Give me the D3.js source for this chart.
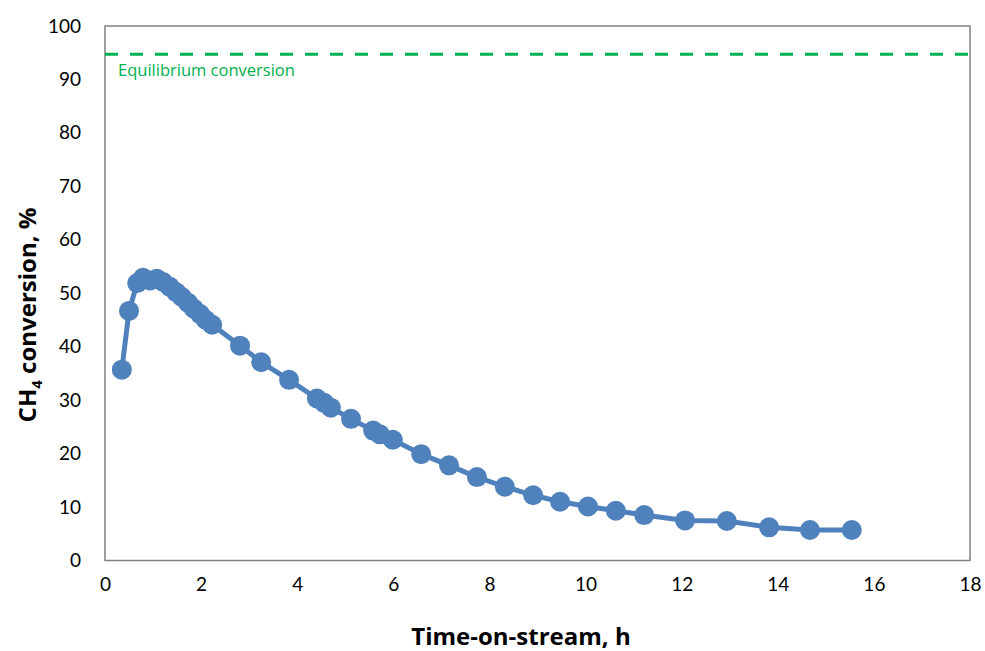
<!DOCTYPE html>
<html lang="en">
<head>
<meta charset="UTF-8">
<title>CH4 conversion</title>
<script src="https://cdn.jsdelivr.net/npm/d3@7/dist/d3.min.js"></script>
<style>
  body { margin: 0; background: #fff; }
  text { font-family: Lato, "Open Sans", sans-serif; }
</style>
</head>
<body>
<script>
// time-on-stream (h) and CH4 conversion (%)
const timeH = [0.35, 0.50, 0.67, 0.79, 0.94, 1.08, 1.21, 1.35, 1.48, 1.60, 1.73, 1.85, 1.98, 2.10, 2.23,
  2.81, 3.25, 3.83, 4.41, 4.56, 4.70, 5.12, 5.58, 5.72, 5.99, 6.58, 7.16, 7.74, 8.32, 8.91,
  9.47, 10.05, 10.63, 11.22, 12.07, 12.94, 13.82, 14.67, 15.54];
const conversion = [35.7, 46.7, 51.9, 52.9, 52.4, 52.7, 52.1, 51.2, 50.2, 49.3, 48.2, 47.1, 46.1, 45.0, 44.1,
  40.2, 37.1, 33.8, 30.3, 29.5, 28.6, 26.5, 24.3, 23.6, 22.6, 19.9, 17.8, 15.6, 13.8, 12.2,
  11.0, 10.1, 9.3, 8.5, 7.5, 7.4, 6.2, 5.7, 5.7];
const equilibrium = 94.7;
const xTicks = [0, 2, 4, 6, 8, 10, 12, 14, 16, 18];
const yTicks = [0, 10, 20, 30, 40, 50, 60, 70, 80, 90, 100];

const W = 985, H = 651;
const plotL = 105, plotR = 970, plotT = 26, plotB = 560.5;
const titleFont = '"Open Sans", Lato, sans-serif';

const svg = d3.select('body').append('svg').attr('width', W).attr('height', H);

const x = d3.scaleLinear().domain([0, 18]).range([plotL, plotR]);
const y = d3.scaleLinear().domain([0, 100]).range([plotB, plotT]);

// axes (labels only, no tick marks)
const xAxis = svg.append('g').attr('transform', `translate(0,${plotB})`)
  .call(d3.axisBottom(x).tickValues(xTicks).tickSize(0).tickPadding(17));
const yAxis = svg.append('g').attr('transform', `translate(${plotL},0)`)
  .call(d3.axisLeft(y).tickValues(yTicks).tickSize(0).tickPadding(24));
[xAxis, yAxis].forEach(g => {
  g.select('.domain').remove();
  g.selectAll('text').attr('font-size', 19).attr('fill', '#000')
    .style('font-family', 'Lato, "Open Sans", sans-serif');
});

// plot frame
svg.append('rect')
  .attr('x', plotL).attr('y', plotT)
  .attr('width', plotR - plotL).attr('height', plotB - plotT)
  .attr('fill', 'none').attr('stroke', '#808080').attr('stroke-width', 1.5);

// equilibrium line
svg.append('line')
  .attr('x1', x(0)).attr('x2', x(18))
  .attr('y1', y(equilibrium)).attr('y2', y(equilibrium))
  .attr('stroke', '#00b050').attr('stroke-width', 3)
  .attr('stroke-dasharray', '13,12');
svg.append('text')
  .attr('x', x(0) + 13).attr('y', y(equilibrium) + 22)
  .attr('font-size', 16.5).attr('fill', '#00b050')
  .style('font-family', titleFont)
  .text('Equilibrium conversion');

// data series
const pts = timeH.map((t, i) => [t, conversion[i]]);
svg.append('path')
  .datum(pts)
  .attr('fill', 'none').attr('stroke', '#4f81bd').attr('stroke-width', 5)
  .attr('stroke-linejoin', 'round')
  .attr('d', d3.line().x(d => x(d[0])).y(d => y(d[1])));
svg.selectAll('circle.pt').data(pts).enter().append('circle')
  .attr('class', 'pt')
  .attr('cx', d => x(d[0])).attr('cy', d => y(d[1]))
  .attr('r', 10).attr('fill', '#4f81bd');

// axis titles
svg.append('text')
  .attr('x', 521).attr('y', 645)
  .attr('text-anchor', 'middle').attr('font-size', 24).attr('font-weight', 'bold')
  .style('font-family', titleFont)
  .text('Time-on-stream, h');

const yt = svg.append('text')
  .attr('transform', 'translate(36,315) rotate(-90)')
  .attr('text-anchor', 'middle').attr('font-size', 24).attr('font-weight', 'bold')
  .style('font-family', titleFont);
yt.append('tspan').text('CH');
yt.append('tspan').attr('font-size', 15).attr('dy', 6).text('4');
yt.append('tspan').attr('dy', -6).text(' conversion, %');
</script>
</body>
</html>
